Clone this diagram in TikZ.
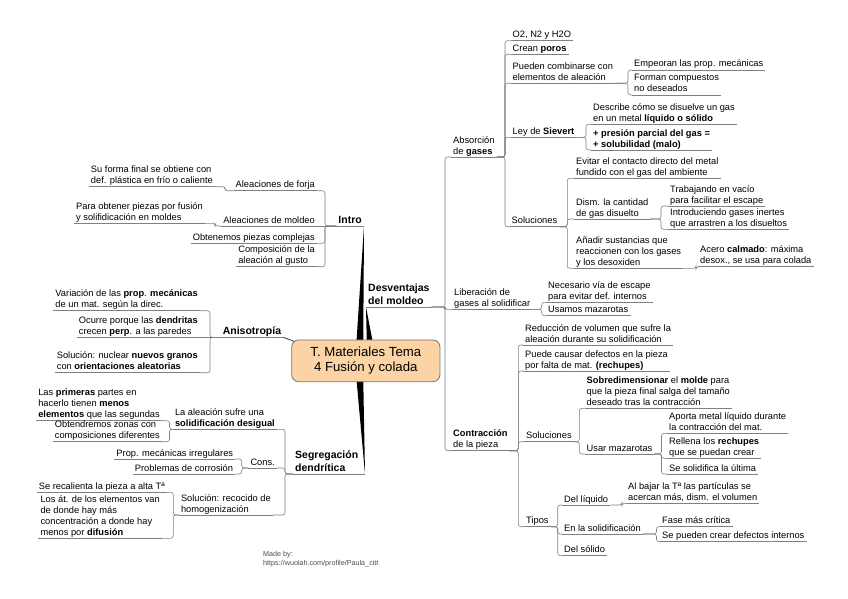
\documentclass[tikz,border=0pt]{standalone}
\usepackage{fontspec}
\setmainfont{Liberation Sans}
\usetikzlibrary{calc,backgrounds}
\definecolor{peach}{RGB}{251,211,164}
\newcommand\fsn{\fontsize{9.3}{11}\selectfont}
\newcommand\fsb{\fontsize{10.5}{13}\selectfont\bfseries}
\newcommand\fsc{\fontsize{13.2}{15}\selectfont}
\newcommand\linkR[3]{\draw[ln] (#1.south east) -| (#2 |- #3.south west) -- (#3.south west);}
\newcommand\linkL[3]{\draw[ln] (#1.south west) -| (#2 |- #3.south east) -- (#3.south east);}
\tikzset{
  uline/.style={draw=black!50, line width=0.6pt},
  ln/.style={draw=black!50, line width=0.6pt, rounded corners=2.5pt},
  ul/.style={append after command={(\tikzlastnode.south west) edge[uline] (\tikzlastnode.south east)}},
  tp/.style={font=\fsn, inner xsep=2pt, inner ysep=0.5pt, align=left,
    execute at end node={\rule[-2.3pt]{0pt}{0pt}}, ul},
  tR/.style={tp, anchor=south west},
  tL/.style={tp, anchor=south east},
  ctrbox/.style={rounded corners=7pt, fill=peach, draw=black!55, line width=0.8pt,
    minimum width=148.3pt, minimum height=41.7pt, align=center, font=\fsc, inner sep=0pt},
  wedge/.style={fill=black}
}
\begin{document}
\begin{tikzpicture}[x=1pt,y=-1pt]
\useasboundingbox (0,0) rectangle (848,599);

% trunks
\coordinate (tDes) at (445,0);
\coordinate (tAbs) at (505,0);
\coordinate (tPue) at (628,0);
\coordinate (tLey) at (586,0);
\coordinate (tSol1) at (567.3,0);
\coordinate (tDis) at (661,0);
\coordinate (tAna) at (696,0);
\coordinate (tLib) at (541.7,0);
\coordinate (tCon) at (518.3,0);
\coordinate (tSol2) at (579.3,0);
\coordinate (tUsa) at (661.5,0);
\coordinate (tTip) at (557.7,0);
\coordinate (tLiq) at (622,0);
\coordinate (tEnl) at (656.5,0);
\coordinate (tInt) at (325,0);
\coordinate (tFor) at (225,0);
\coordinate (tMol) at (215,0);
\coordinate (tAni) at (210,0);
\coordinate (tSeg) at (285,0);
\coordinate (tLaa) at (169.5,0);
\coordinate (tCons) at (241.7,0);
\coordinate (tSrec) at (173.3,0);

% central topic
\node[ctrbox] (ctr) at (365.8,360.8) {T. Materiales Tema\\4 Fusión y colada};

% main topics
\node[tL, font=\fsb] (intro) at (364,226) {Intro};
\node[tR, font=\fsb] (des) at (366,307) {Desventajas\\del moldeo};
\node[tL, font=\fsb] (ani) at (283.3,337.3) {Anisotropía};
\node[tR, font=\fsb] (seg) at (293,474) {Segregación\\dendrítica};
\coordinate (segTip) at (365,474);
\draw[uline] (seg.south east) -- (segTip);

% Desventajas subtree
\node[tR] (abs) at (451,157) {Absorción\\de \textbf{gases}};
\node[tR] (o2) at (510.5,40.7) {O2, N2 y H2O};
\node[tR] (crean) at (510.5,54.3) {Crean \textbf{poros}};
\node[tR] (pueden) at (510.5,83.3) {Pueden combinarse con\\elementos de aleación};
\node[tR] (empeoran) at (632,70) {Empeoran las prop. mecánicas};
\node[tR] (forman) at (632,95) {Forman compuestos\\no deseados};
\node[tR] (ley) at (510.5,137.3) {Ley de \textbf{Sievert}};
\node[tR] (describe) at (591,124.3) {Describe cómo se disuelve un gas\\en un metal \textbf{líquido o sólido}};
\node[tR] (presion) at (591,150) {\textbf{+ presión parcial del gas =}\\\textbf{+ solubilidad (malo)}};
\node[tR] (sol1) at (509.5,226.7) {Soluciones};
\node[tR] (evitar) at (574,178.3) {Evitar el contacto directo del metal\\fundido con el gas del ambiente};
\node[tR] (dism) at (574,219) {Dism. la cantidad\\de gas disuelto};
\node[tR] (trab) at (668,206) {Trabajando en vacío\\para facilitar el escape};
\node[tR] (intr) at (668,229.3) {Introduciendo gases inertes\\que arrastren a los disueltos};
\node[tR] (anad) at (574,268.3) {Añadir sustancias que\\reaccionen con los gases\\y los desoxiden};
\node[tR] (acero) at (698,266.7) {Acero \textbf{calmado}: máxima\\desox., se usa para colada};
\node[tR] (lib) at (452,309.3) {Liberación de\\gases al solidificar};
\node[tR] (nec) at (546,302.3) {Necesario vía de escape\\para evitar def. internos};
\node[tR] (usamos) at (546,315.7) {Usamos mazarotas};
\node[tR] (contr) at (451,450.7) {\textbf{Contracción}\\de la pieza};
\node[tR] (reduc) at (523,345) {Reducción de volumen que sufre la\\aleación durante su solidificación};
\node[tR] (puede) at (523,371) {Puede causar defectos en la pieza\\por falta de mat. \textbf{(rechupes)}};
\node[tR] (sol2) at (524,441.7) {Soluciones};
\node[tR] (sobre) at (584.5,408.3) {\textbf{Sobredimensionar} el \textbf{molde} para\\que la pieza final salga del tamaño\\deseado tras la contracción};
\node[tR] (usar) at (584.5,454) {Usar mazarotas};
\node[tR] (aporta) at (667,433.3) {Aporta metal líquido durante\\la contracción del mat.};
\node[tR] (rellena) at (667,458.3) {Rellena los \textbf{rechupes}\\que se puedan crear};
\node[tR] (ultima) at (667,474) {Se solidifica la última};
\node[tR] (tipos) at (524,526.7) {Tipos};
\node[tR] (liq) at (562,505) {Del líquido};
\node[tR] (albajar) at (626,503.3) {Al bajar la Tª las partículas se\\acercan más, dism. el volumen};
\node[tR] (ensol) at (562,534) {En la solidificación};
\node[tR] (fase) at (660,526.7) {Fase más crítica};
\node[tR] (defint) at (660,541.7) {Se pueden crear defectos internos};
\node[tR] (solido) at (562,555.7) {Del sólido};

% Intro subtree
\node[tL] (forja) at (317,190.7) {Aleaciones de forja};
\node[tL] (suforma) at (215,186.7) {Su forma final se obtiene con\\def. plástica en frío o caliente};
\node[tL] (moldeo) at (317,226) {Aleaciones de moldeo};
\node[tL] (paraobt) at (205,223.3) {Para obtener piezas por fusión\\y solifidicación en moldes};
\node[tL] (obten) at (317,243.3) {Obtenemos piezas complejas};
\node[tL] (compo) at (317,266.7) {Composición de la\\aleación al gusto};

% Anisotropia subtree
\node[tL] (variac) at (200,310.7) {Variación de las \textbf{prop}. \textbf{mecánicas}\\de un mat. según la direc.};
\node[tL] (ocurre) at (200,337.3) {Ocurre porque las \textbf{dendritas}\\crecen \textbf{perp}. a las paredes};
\node[tL] (solnuc) at (200,372.7) {Solución: nuclear \textbf{nuevos granos}\\con \textbf{orientaciones aleatorias}};

% Segregacion subtree
\node[tL] (laal) at (277,429.3) {La aleación sufre una\\\textbf{solidificación desigual}};
\node[tL] (prim) at (162,420.7) {Las \textbf{primeras} partes en\\hacerlo tienen \textbf{menos}\\\textbf{elementos} que las segundas};
\node[tL] (obtz) at (162,441.7) {Obtendremos zonas con\\composiciones diferentes};
\node[tL] (cons) at (277,468) {Cons.};
\node[tL] (propm) at (235.3,459) {Prop. mecánicas irregulares};
\node[tL] (probc) at (235.3,474) {Problemas de corrosión};
\node[tL] (solrec) at (273,515) {Solución: recocido de\\homogenización};
\node[tL] (recal) at (167,492.3) {Se recalienta la pieza a alta Tª};
\node[tL] (losat) at (162,538.3) {Los át. de los elementos van\\de donde hay más\\concentración a donde hay\\menos por \textbf{difusión}};

\node[anchor=north west, font=\fontsize{7.2}{8.3}\selectfont, text=black!70, align=left, inner sep=0pt] (made) at (263,551.5) {Made by:\\https://wuolah.com/profile/Paula\_citt};

% thick main branches and central link
\begin{scope}[on background layer]
\fill[wedge] (intro.south east) -- ($(ctr.north)+(-9.7,8)$) -- ($(ctr.north)+(-2.6,8)$) -- cycle;
\fill[wedge] (des.south west) -- ($(ctr.north)+(1.1,8)$) -- ($(ctr.north)+(8,8)$) -- cycle;
\fill[wedge] (segTip) -- ($(ctr.south)+(-9.8,-8)$) -- ($(ctr.south)+(-2.65,-8)$) -- cycle;
\draw[draw=black!65, line width=1pt] (ani.south east) -- ($(ctr.north west)+(14,6)$);
\end{scope}

% connectors right
\linkR{des}{tDes}{abs}
\linkR{des}{tDes}{lib}
\linkR{des}{tDes}{contr}
\linkR{abs}{tAbs}{o2}
\linkR{abs}{tAbs}{crean}
\linkR{abs}{tAbs}{pueden}
\linkR{abs}{tAbs}{ley}
\linkR{abs}{tAbs}{sol1}
\linkR{pueden}{tPue}{empeoran}
\linkR{pueden}{tPue}{forman}
\linkR{ley}{tLey}{describe}
\linkR{ley}{tLey}{presion}
\linkR{sol1}{tSol1}{evitar}
\linkR{sol1}{tSol1}{dism}
\linkR{sol1}{tSol1}{anad}
\linkR{dism}{tDis}{trab}
\linkR{dism}{tDis}{intr}
\linkR{anad}{tAna}{acero}
\linkR{lib}{tLib}{nec}
\linkR{lib}{tLib}{usamos}
\linkR{contr}{tCon}{reduc}
\linkR{contr}{tCon}{puede}
\linkR{contr}{tCon}{sol2}
\linkR{contr}{tCon}{tipos}
\linkR{sol2}{tSol2}{sobre}
\linkR{sol2}{tSol2}{usar}
\linkR{usar}{tUsa}{aporta}
\linkR{usar}{tUsa}{rellena}
\linkR{usar}{tUsa}{ultima}
\linkR{tipos}{tTip}{liq}
\linkR{tipos}{tTip}{ensol}
\linkR{tipos}{tTip}{solido}
\linkR{liq}{tLiq}{albajar}
\linkR{ensol}{tEnl}{fase}
\linkR{ensol}{tEnl}{defint}

% connectors left
\linkL{intro}{tInt}{forja}
\draw[ln] (intro.south west) -- (moldeo.south east);
\linkL{intro}{tInt}{obten}
\linkL{intro}{tInt}{compo}
\linkL{forja}{tFor}{suforma}
\linkL{moldeo}{tMol}{paraobt}
\linkL{ani}{tAni}{variac}
\draw[ln] (ani.south west) -- (ocurre.south east);
\linkL{ani}{tAni}{solnuc}
\linkL{seg}{tSeg}{laal}
\linkL{seg}{tSeg}{cons}
\linkL{seg}{tSeg}{solrec}
\linkL{laal}{tLaa}{prim}
\linkL{laal}{tLaa}{obtz}
\linkL{cons}{tCons}{propm}
\linkL{cons}{tCons}{probc}
\linkL{solrec}{tSrec}{recal}
\linkL{solrec}{tSrec}{losat}
\end{tikzpicture}
\end{document}
